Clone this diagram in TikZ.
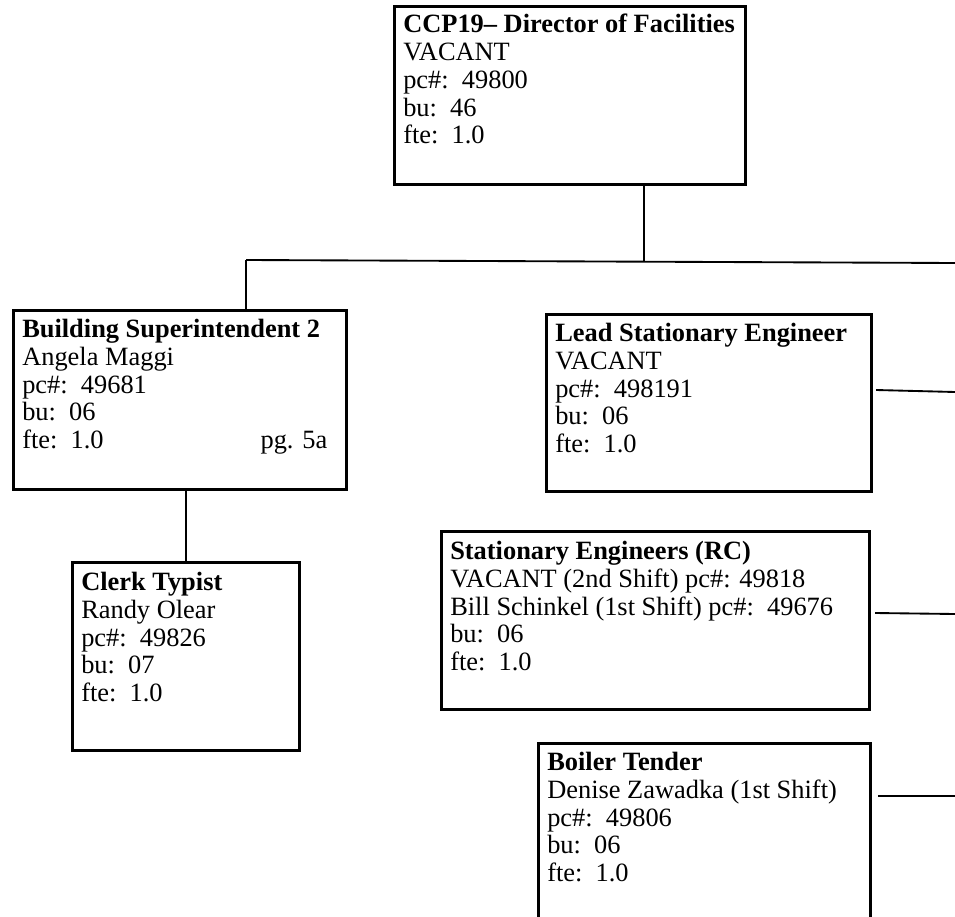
\documentclass[tikz,border=0pt]{standalone}
\usepackage{fontspec}
\setmainfont{Liberation Serif}
\begin{document}
\begin{tikzpicture}[x=0.75pt,y=-0.75pt,
  box/.style={draw=black,line width=2.3pt,rectangle,inner sep=0pt,anchor=north west},
  txt/.style={anchor=north west,inner sep=0pt,align=left,font=\fontsize{19.8}{20.8}\selectfont},
  conn/.style={draw=black,line width=1.4pt}]
\useasboundingbox (0,0) rectangle (955,916);
\clip (0,0) rectangle (955,916);
% boxes
\node[box,minimum width=351*0.75pt,minimum height=178*0.75pt] (dir) at (393,5) {};
\node[txt] (dirt) at (403,14) {\textbf{CCP19– Director of Facilities}\\VACANT\\pc\#:~~49800\\bu:~~46\\fte:~~1.0};
\node[box,minimum width=333*0.75pt,minimum height=179*0.75pt] (bs) at (12,309) {};
\node[txt] (bst) at (22,319) {\textbf{Building Superintendent 2}\\Angela Maggi\\pc\#:~~49681\\bu:~~06\\\makebox[228.75pt][l]{fte:~~1.0\hfill pg. 5a}};
\node[box,minimum width=227*0.75pt,minimum height=188*0.75pt] (ct) at (71,561) {};
\node[txt] (ctt) at (81,572) {\textbf{Clerk Typist}\\Randy Olear\\pc\#:~~49826\\bu:~~07\\fte:~~1.0};
\node[box,minimum width=325*0.75pt,minimum height=177*0.75pt] (lse) at (545,313) {};
\node[txt] (lset) at (555,323) {\textbf{Lead Stationary Engineer}\\VACANT\\pc\#:~~498191\\bu:~~06\\fte:~~1.0};
\node[box,minimum width=428*0.75pt,minimum height=178*0.75pt] (se) at (440,530) {};
\node[txt] (set) at (450,541) {\textbf{Stationary Engineers (RC)}\\VACANT (2nd Shift) pc\#: 49818\\Bill Schinkel (1st Shift) pc\#:~~49676\\bu:~~06\\fte:~~1.0};
\node[box,minimum width=332*0.75pt,minimum height=200*0.75pt] (bt) at (537,742) {};
\node[txt] (btt) at (547,752) {\textbf{Boiler Tender}\\Denise Zawadka (1st Shift)\\pc\#:~~49806\\bu:~~06\\fte:~~1.0};
% connector points
\coordinate (barL) at (246,260);
\coordinate (barR) at (955,263);
\coordinate (barM) at (644,261);
\coordinate (r1) at (955,392);
\coordinate (r2) at (955,614);
\coordinate (r3) at (955,796);
% connectors
\draw[conn] (dir.south -| barM) -- (barM);
\draw[conn] (barL) -- (barR);
\draw[conn] (barL) -- (barL |- bs.north);
\draw[conn] (ct.north) -- (ct.north |- bs.south);
\draw[conn] ([xshift=3*0.75pt]lse.east |- 0,390) -- (r1);
\draw[conn] ([xshift=4*0.75pt]se.east |- 0,613) -- (r2);
\draw[conn] ([xshift=6*0.75pt]bt.east |- 0,796) -- (r3);
\end{tikzpicture}
\end{document}
